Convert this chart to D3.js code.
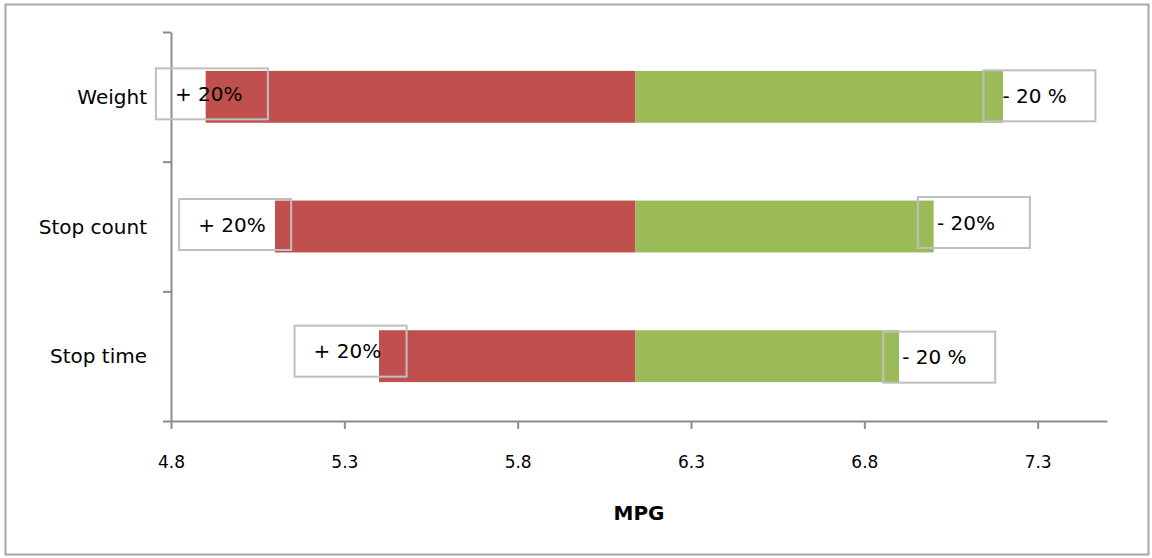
<!DOCTYPE html>
<html>
<head>
<meta charset="utf-8">
<script src="https://cdn.jsdelivr.net/npm/d3@7"></script>
<style>
  html, body { margin: 0; padding: 0; background: #fff; }
  svg { display: block; }
  text { font-family: "DejaVu Sans", "Liberation Sans", sans-serif; fill: #000; }
</style>
</head>
<body>
<svg id="chart" width="1152" height="558"></svg>
<script>
// Sensitivity of fuel economy (MPG) to a ±20% change in each input
const categories = ["Weight", "Stop count", "Stop time"];
const baseMPG = 6.14;                    // MPG with all inputs at nominal
const plusMPG = [4.90, 5.10, 5.40];      // MPG with input raised by 20%
const minusMPG = [7.20, 7.00, 6.90];     // MPG with input lowered by 20%
const xTicks = [4.8, 5.3, 5.8, 6.3, 6.8, 7.3];
const xDomain = [4.8, 7.5];
const plusLabels = ["+ 20%", "+ 20%", "+ 20%"];
const minusLabels = ["- 20 %", "- 20%", "- 20 %"];
// callout box centres, in MPG
const plusLabelAt = [4.918, 4.985, 5.318];
const minusLabelAt = [7.305, 7.116, 7.016];

const svg = d3.select("#chart");
const W = 1152, H = 558;
const plot = { left: 171, right: 1107, top: 32, bottom: 421 };

// chart area frame
svg.append("rect")
  .attr("x", 5.5).attr("y", 4.5)
  .attr("width", W - 9).attr("height", H - 8)
  .attr("fill", "#fff")
  .attr("stroke", "#a6a6a6").attr("stroke-width", 2);

const x = d3.scaleLinear().domain(xDomain).range([plot.left, plot.right]);
const y = d3.scaleBand().domain(categories)
  .range([plot.top, plot.bottom])
  .paddingInner(0.6).paddingOuter(0.3);
// category boundaries for the vertical axis ticks
const yEdge = d3.scaleLinear().domain([0, categories.length]).range([plot.top, plot.bottom]);

const axisColor = "#8c8c8c";

// bars: red = input +20%, green = input -20%
const rows = categories.map((c, i) => ({ c, i, plus: plusMPG[i], minus: minusMPG[i] }));

svg.append("g").selectAll("rect.plus").data(rows).join("rect")
  .attr("class", "plus")
  .attr("x", d => x(d.plus))
  .attr("y", d => y(d.c))
  .attr("width", d => x(baseMPG) - x(d.plus))
  .attr("height", y.bandwidth())
  .attr("fill", "#c0504d");

svg.append("g").selectAll("rect.minus").data(rows).join("rect")
  .attr("class", "minus")
  .attr("x", x(baseMPG))
  .attr("y", d => y(d.c))
  .attr("width", d => x(d.minus) - x(baseMPG))
  .attr("height", y.bandwidth())
  .attr("fill", "#9bbb59");

// x axis
const gx = svg.append("g")
  .attr("transform", `translate(0,${plot.bottom})`)
  .call(d3.axisBottom(x).tickValues(xTicks).tickSize(8).tickSizeOuter(0)
    .tickFormat(d3.format(".1f")));
gx.select(".domain").attr("stroke", axisColor).attr("stroke-width", 2);
gx.selectAll(".tick line").attr("stroke", axisColor).attr("stroke-width", 2);
gx.selectAll(".tick text")
  .attr("y", 47).attr("dy", 0)
  .style("font-family", '"DejaVu Sans", sans-serif')
  .style("font-size", "17px").attr("fill", "#000");

// y axis: ticks between categories
const gy = svg.append("g")
  .attr("transform", `translate(${plot.left},0)`)
  .call(d3.axisLeft(yEdge).tickValues(d3.range(categories.length + 1))
    .tickSize(8).tickSizeOuter(0).tickFormat(""));
gy.select(".domain").attr("stroke", axisColor).attr("stroke-width", 2);
gy.selectAll(".tick line").attr("stroke", axisColor).attr("stroke-width", 2);

// category labels
svg.append("g").selectAll("text").data(categories).join("text")
  .attr("x", 147)
  .attr("y", d => y(d) + y.bandwidth() / 2)
  .attr("dy", "0.36em")
  .attr("text-anchor", "end")
  .style("font-size", "20px")
  .text(d => d);

// axis title
svg.append("text")
  .attr("x", (plot.left + plot.right) / 2)
  .attr("y", 520)
  .attr("text-anchor", "middle")
  .style("font-size", "20px")
  .style("font-weight", "bold")
  .text("MPG");

// callout boxes with change labels
const boxW = 112, boxH = 51, pad = 19;
function callouts(at, labels, dyShift) {
  const g = svg.append("g");
  const items = categories.map((c, i) => ({ c, cx: x(at[i]), label: labels[i], sh: dyShift[i] }));
  g.selectAll("rect").data(items).join("rect")
    .attr("x", d => d.cx - boxW / 2)
    .attr("y", d => y(d.c) + y.bandwidth() / 2 - boxH / 2 + d.sh)
    .attr("width", boxW).attr("height", boxH)
    .attr("fill", "none")
    .attr("stroke", "#bfbfbf").attr("stroke-width", 2);
  g.selectAll("text").data(items).join("text")
    .attr("x", d => d.cx - boxW / 2 + pad)
    .attr("y", d => y(d.c) + y.bandwidth() / 2 + d.sh)
    .attr("dy", "0.36em")
    .style("font-size", "20px")
    .text(d => d.label);
}
callouts(plusLabelAt, plusLabels, [-3, -2, -5]);
callouts(minusLabelAt, minusLabels, [-1, -4, 1]);
</script>
</body>
</html>
